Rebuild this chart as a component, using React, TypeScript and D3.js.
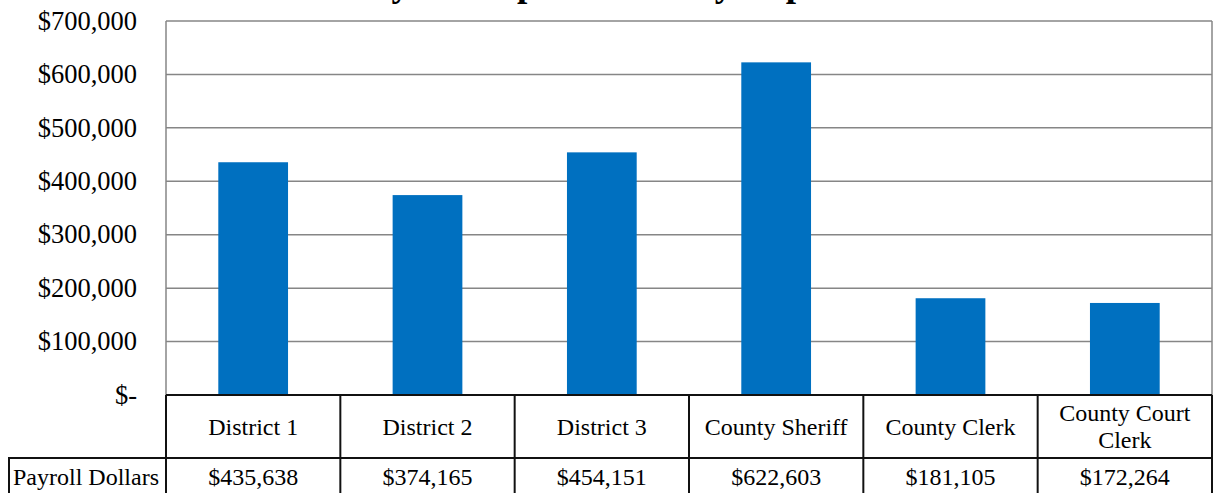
import React from "react";
import * as d3 from "d3";

const categories = ["District 1", "District 2", "District 3", "County Sheriff", "County Clerk", "County Court Clerk"];
const headerLines = [["District 1"], ["District 2"], ["District 3"], ["County Sheriff"], ["County Clerk"], ["County Court", "Clerk"]];
const payroll = [435638, 374165, 454151, 622603, 181105, 172264];
const yTicks = [0, 100000, 200000, 300000, 400000, 500000, 600000, 700000];
const seriesName = "Payroll Dollars";
const title = "Payroll Expenditures by Department";

const W = 1213, H = 493;
const left = 166, right = 1212, top = 21, zeroY = 395;
const row1Bottom = 458, row2Bottom = 494;
const font = "'Liberation Serif', 'Times New Roman', serif";

export default function App() {
  const x = d3.scaleBand<string>().domain(categories).range([left, right]).paddingInner(0).paddingOuter(0);
  const y = d3.scaleLinear().domain([0, 700000]).range([zeroY, top]);
  const fmt = d3.format(",");
  const yLabel = (v: number) => (v === 0 ? "$-" : "$" + fmt(v));
  const bw = x.bandwidth() * 0.4;
  return (
    <svg width={W} height={H} style={{ position: "absolute", left: 0, top: 0, background: "#fff" }} fontFamily={font}>
      <text x={642} y={-4.5} textAnchor="middle" fontSize={37} fontWeight="bold">{title}</text>
      {yTicks.filter(t => t > 0).map(t => (
        <line key={t} x1={left} x2={right} y1={y(t)} y2={y(t)} stroke="#868686" strokeWidth={1.5} />
      ))}
      <line x1={left} x2={left} y1={top} y2={zeroY} stroke="#868686" strokeWidth={1.5} />
      <line x1={right} x2={right} y1={top} y2={zeroY} stroke="#868686" strokeWidth={1.5} />
      {yTicks.map(t => (
        <text key={t} x={137} y={y(t)} dy="0.33em" textAnchor="end" fontSize={26.5}>{yLabel(t)}</text>
      ))}
      {categories.map((c, i) => (
        <rect key={c} x={(x(c) as number) + (x.bandwidth() - bw) / 2} y={y(payroll[i])} width={bw} height={zeroY - y(payroll[i])} fill="#0070C0" />
      ))}
      {/* table */}
      <g stroke="#111" strokeWidth={2} fill="none">
        <line x1={left} x2={right} y1={zeroY} y2={zeroY} />
        <line x1={8} x2={right} y1={row1Bottom} y2={row1Bottom} />
        <line x1={8} x2={right} y1={row2Bottom} y2={row2Bottom} />
        <line x1={9} x2={9} y1={row1Bottom} y2={row2Bottom} />
        {categories.map(c => (
          <line key={c} x1={x(c) as number} x2={x(c) as number} y1={zeroY} y2={row2Bottom} />
        ))}
        <line x1={right} x2={right} y1={zeroY} y2={row2Bottom} />
      </g>
      {categories.map((c, i) => {
        const cx = (x(c) as number) + x.bandwidth() / 2;
        const lines = headerLines[i];
        const mid = (zeroY + row1Bottom) / 2;
        const lh = 27;
        return (
          <g key={c}>
            {lines.map((l, j) => (
              <text key={j} x={cx} y={mid + (j - (lines.length - 1) / 2) * lh} dy="0.35em" textAnchor="middle" fontSize={24}>{l}</text>
            ))}
            <text x={cx} y={(row1Bottom + 495) / 2} dy="0.35em" textAnchor="middle" fontSize={24}>{"$" + fmt(payroll[i])}</text>
          </g>
        );
      })}
      <text x={86} y={(row1Bottom + 495) / 2} dy="0.35em" textAnchor="middle" fontSize={24}>{seriesName}</text>
    </svg>
  );
}
